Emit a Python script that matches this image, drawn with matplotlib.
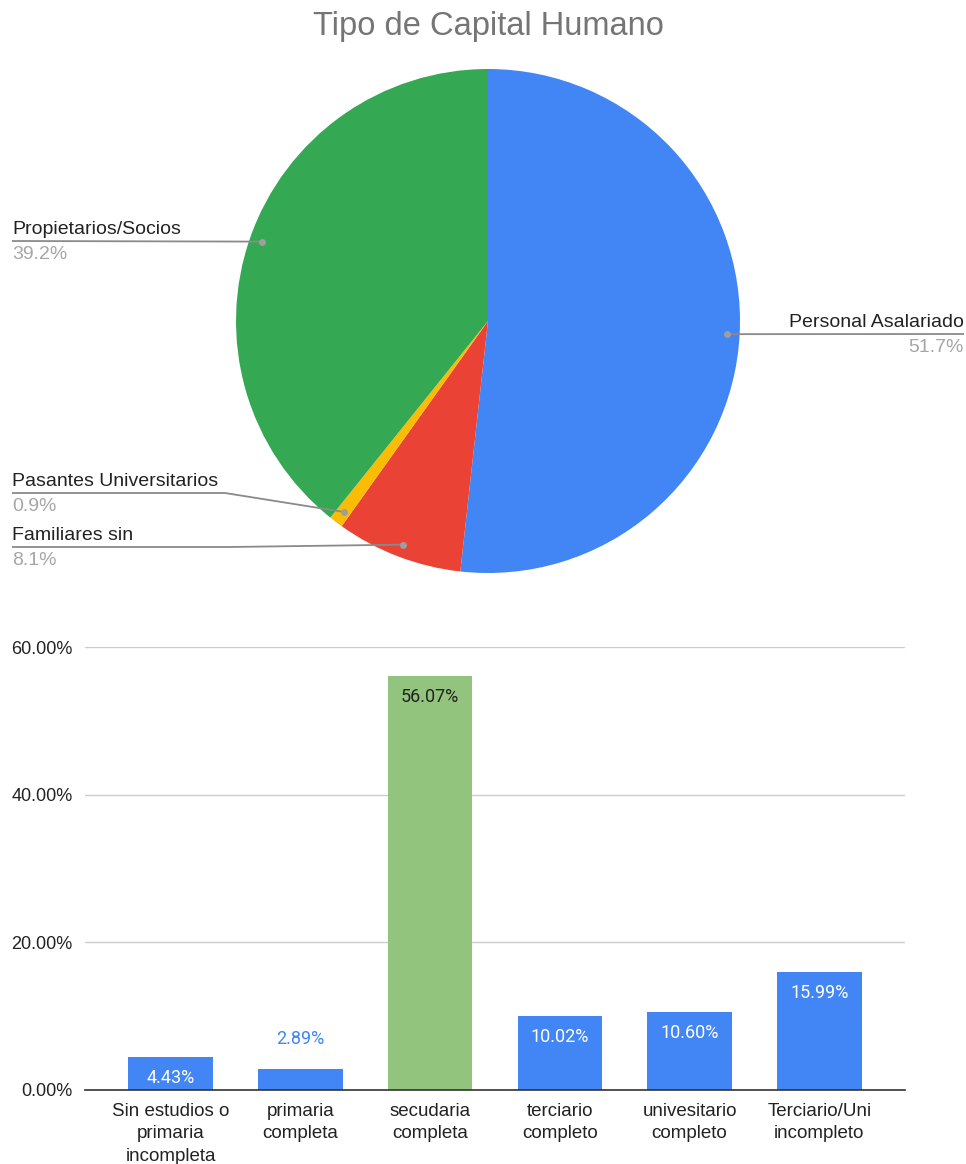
import matplotlib
matplotlib.use("Agg")
import matplotlib.pyplot as plt
import numpy as np

plt.rcParams["font.family"] = ["Liberation Sans", "DejaVu Sans"]
VALUE_FONT = ["Roboto", "DejaVu Sans"]

# Pie: tipo de capital humano (clockwise from 12 o'clock)
pie_labels = ["Personal Asalariado", "Familiares sin", "Pasantes Universitarios", "Propietarios/Socios"]
pie_values = [51.7, 8.1, 0.9, 39.2]
pie_colors = ["#4285F4", "#EA4335", "#FBBC04", "#34A853"]

# Bars: nivel educativo
bar_labels = ["Sin estudios o\nprimaria\nincompleta", "primaria\ncompleta", "secudaria\ncompleta",
              "terciario\ncompleto", "univesitario\ncompleto", "Terciario/Uni\nincompleto"]
bar_values = [4.43, 2.89, 56.07, 10.02, 10.60, 15.99]
bar_colors = ["#4285F4", "#4285F4", "#93C47D", "#4285F4", "#4285F4", "#4285F4"]

W, H = 966, 1164
fig = plt.figure(figsize=(W / 100, H / 100), dpi=100)

# ── Pie ─────────────────────────────────────────────
cx, cy, r = 488, 321, 252
ax_pie = fig.add_axes([(cx - r) / W, (H - cy - r) / H, 2 * r / W, 2 * r / H])
wedges, _ = ax_pie.pie(pie_values, colors=pie_colors, startangle=90, counterclock=False,
                       wedgeprops=dict(linewidth=0))
ax_pie.set_xlim(-1, 1)
ax_pie.set_ylim(-1, 1)

# overlay in pixel coordinates for the leader lines and labels
ax = fig.add_axes([0, 0, 1, 1], zorder=5)
ax.set_xlim(0, W)
ax.set_ylim(H, 0)
ax.axis("off")

fig.canvas.draw()
to_px = ax_pie.transData + ax.transData.inverted()

# side, y of the label line, elbow x (None = straight)
leaders = [
    ("right", 334, None),
    ("left", 547, 230),
    ("left", 493, 225),
    ("left", 241, None),
]

for w, name, val, (side, ly, ex) in zip(wedges, pie_labels, pie_values, leaders):
    mid = np.deg2rad((w.theta1 + w.theta2) / 2)
    dx, dy = to_px.transform((0.95 * np.cos(mid), 0.95 * np.sin(mid)))
    end_x = 964 if side == "right" else 12
    if ex is None:
        xs, ys = [dx, end_x], [dy, ly]
    else:
        xs, ys = [dx, ex, end_x], [dy, ly, ly]
    ax.plot(xs, ys, color="#8a8a8a", lw=1.3, solid_capstyle="butt")
    ax.plot(dx, dy, "o", color="#9e9e9e", ms=5, mec="none")
    ha = "right" if side == "right" else "left"
    ax.text(end_x, ly - 7, name, ha=ha, va="baseline", fontsize=14, color="#222222")
    ax.text(end_x, ly + 5, f"{val}%", ha=ha, va="top", fontsize=14, color="#a6a6a6")

ax.text(488, 27, "Tipo de Capital Humano", ha="center", va="center", fontsize=23.5,
        color="#757575")

# ── Bars ────────────────────────────────────────────
ax_bar = fig.add_axes([85 / W, (H - 1090) / H, 820 / W, 443 / H])
x = np.arange(len(bar_values))
bars = ax_bar.bar(x, bar_values, width=0.65, color=bar_colors, zorder=3)
ax_bar.set_xlim(-0.66, len(bar_values) - 0.34)
ax_bar.set_ylim(0, 60)
ax_bar.set_yticks([0, 20, 40, 60])
ax_bar.set_yticklabels([f"{v:.2f}%" for v in [0, 20, 40, 60]])
ax_bar.grid(axis="y", color="#cccccc", lw=1, zorder=0)
for s in ["top", "right", "left"]:
    ax_bar.spines[s].set_visible(False)
ax_bar.spines["bottom"].set_color("#333333")
ax_bar.spines["bottom"].set_linewidth(1.2)
ax_bar.spines["bottom"].set_zorder(4)
ax_bar.tick_params(axis="y", length=0, pad=9, labelsize=13, labelcolor="#222222")
ax_bar.tick_params(axis="x", length=0, pad=9, labelsize=13.5, labelcolor="#222222")
ax_bar.set_xticks(x)
ax_bar.set_xticklabels(bar_labels, linespacing=1.45)

for b, v, c in zip(bars, bar_values, bar_colors):
    txt = f"{v:.2f}%"
    xc = b.get_x() + b.get_width() / 2
    if v < 4:
        ax_bar.annotate(txt, (xc, v), xytext=(0, 21), textcoords="offset points",
                        ha="center", va="center", fontsize=13, color="#4285F4",
                        family=VALUE_FONT)
    else:
        col = "#222222" if c == "#93C47D" else "white"
        ax_bar.annotate(txt, (xc, v), xytext=(0, -15), textcoords="offset points",
                        ha="center", va="center", fontsize=13, color=col, zorder=5,
                        family=VALUE_FONT)

fig.savefig("out.png", dpi=100)
